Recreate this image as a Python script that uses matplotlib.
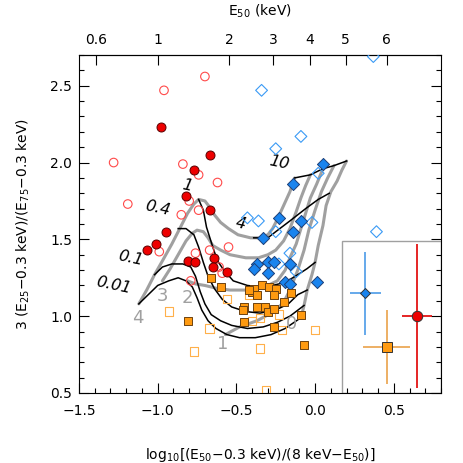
import numpy as np
import matplotlib.pyplot as plt
from matplotlib.patches import Rectangle
from matplotlib.ticker import MultipleLocator, NullLocator

plt.rcParams['font.family'] = ['DejaVu Sans']
plt.rcParams['xtick.direction'] = 'in'
plt.rcParams['ytick.direction'] = 'in'
plt.rcParams['font.size'] = 10

# model grid: gray = constant photon index, black = constant N_H
g4_x = [-1.12, -1.07, -1.02, -0.97, -0.91, -0.86, -0.81, -0.77, -0.74, -0.70, -0.67, -0.64,
        -0.60, -0.55, -0.49, -0.41, -0.35, -0.30, -0.27, -0.24, -0.20, -0.16, -0.13]
g4_y = [1.08, 1.17, 1.27, 1.36, 1.47, 1.57, 1.67, 1.73, 1.76, 1.75, 1.71, 1.66,
        1.61, 1.57, 1.53, 1.51, 1.51, 1.53, 1.57, 1.63, 1.72, 1.81, 1.90]
g3_x = [-0.97, -0.92, -0.87, -0.82, -0.78, -0.75, -0.71, -0.68, -0.65, -0.60, -0.54,
        -0.44, -0.36, -0.30, -0.25, -0.20, -0.16, -0.12, -0.09, -0.06, -0.03]
g3_y = [1.23, 1.31, 1.40, 1.49, 1.54, 1.56, 1.55, 1.51, 1.46, 1.43, 1.40,
        1.38, 1.38, 1.40, 1.43, 1.49, 1.57, 1.68, 1.77, 1.85, 1.92]
g2_x = [-0.81, -0.76, -0.70, -0.62, -0.54, -0.44, -0.36, -0.30, -0.24, -0.19, -0.16,
        -0.12, -0.09, -0.06, -0.03, 0.01, 0.05]
g2_y = [1.23, 1.21, 1.20, 1.18, 1.17, 1.17, 1.18, 1.20, 1.23, 1.30, 1.38,
        1.47, 1.57, 1.67, 1.77, 1.86, 1.96]
g1_x = [-0.57, -0.48, -0.37, -0.26, -0.20, -0.16, -0.11, -0.07, -0.04, 0.00, 0.04, 0.08, 0.12]
g1_y = [0.88, 0.93, 0.97, 1.03, 1.09, 1.17, 1.30, 1.43, 1.56, 1.69, 1.81, 1.90, 1.98]
g0_x = [-0.09, -0.07, -0.05, -0.02, 0.00, 0.02, 0.05, 0.07, 0.10, 0.14, 0.17, 0.20]
g0_y = [0.99, 1.07, 1.17, 1.27, 1.35, 1.46, 1.59, 1.72, 1.81, 1.88, 1.95, 2.01]

b001_x = [-1.12, -1.06, -1.00, -0.93, -0.87, -0.82, -0.78, -0.75, -0.72, -0.68, -0.63,
          -0.56, -0.48, -0.38, -0.28, -0.19, -0.09]
b001_y = [1.08, 1.14, 1.20, 1.23, 1.25, 1.23, 1.19, 1.12, 1.04, 0.97, 0.92,
          0.88, 0.86, 0.86, 0.88, 0.92, 0.99]
b01_x = [-1.02, -0.97, -0.91, -0.84, -0.79, -0.76, -0.73, -0.70, -0.66, -0.60, -0.53,
         -0.43, -0.33, -0.24, -0.16, -0.07]
b01_y = [1.27, 1.32, 1.34, 1.34, 1.32, 1.26, 1.16, 1.08, 1.01, 0.97, 0.94,
         0.92, 0.93, 0.96, 1.00, 1.07]
b04_x = [-0.87, -0.82, -0.77, -0.74, -0.71, -0.68, -0.64, -0.59, -0.53, -0.44, -0.35,
         -0.25, -0.17, -0.11, -0.05]
b04_y = [1.57, 1.57, 1.53, 1.45, 1.35, 1.26, 1.18, 1.11, 1.06, 1.03, 1.02,
         1.04, 1.08, 1.14, 1.17]
b1_x = [-0.74, -0.71, -0.69, -0.65, -0.62, -0.58, -0.52, -0.43, -0.35, -0.27, -0.19, -0.11, -0.05, 0.00]
b1_y = [1.76, 1.69, 1.58, 1.45, 1.36, 1.30, 1.23, 1.20, 1.19, 1.20, 1.22, 1.27, 1.31, 1.35]
b4_x = [-0.39, -0.30, -0.25, -0.16, -0.06, 0.02, 0.09]
b4_y = [1.51, 1.51, 1.55, 1.62, 1.70, 1.76, 1.80]
b10_x = [-0.13, -0.03, 0.05, 0.12, 0.20]
b10_y = [1.90, 1.92, 1.96, 1.98, 2.01]

gamma_labels = ['4', '3', '2', '1', '0']
gamma_lx = [-1.125, -0.97, -0.81, -0.59, -0.15]
gamma_ly = [0.99, 1.13, 1.12, 0.82, 0.95]
nh_labels = ['0.01', '0.1', '0.4', '1', '4', '10']
nh_lx = [-1.28, -1.17, -1.00, -0.81, -0.475, -0.23]
nh_ly = [1.20, 1.38, 1.70, 1.85, 1.60, 2.00]

# sources
red_fill_x = [-0.98, -0.67, -0.77, -0.82, -0.67, -0.95, -1.01, -1.07, -0.81, -0.76, -0.64, -0.65, -0.56]
red_fill_y = [2.23, 2.05, 1.95, 1.78, 1.69, 1.55, 1.47, 1.43, 1.36, 1.35, 1.38, 1.32, 1.29]
red_open_x = [-0.70, -0.96, -1.28, -0.84, -0.74, -0.62, -1.19, -0.80, -0.74, -0.85, -0.55,
              -0.99, -0.76, -0.67, -0.79, -0.61, -0.59]
red_open_y = [2.56, 2.47, 2.00, 1.99, 1.92, 1.87, 1.73, 1.75, 1.69, 1.66, 1.45,
              1.42, 1.41, 1.43, 1.23, 1.32, 1.28]
blue_fill_x = [0.05, -0.14, -0.23, -0.09, -0.14, -0.33, -0.37, -0.39, -0.30, -0.26, -0.30,
               -0.16, -0.19, -0.16, 0.01]
blue_fill_y = [1.99, 1.86, 1.64, 1.62, 1.55, 1.51, 1.34, 1.31, 1.35, 1.35, 1.28,
               1.34, 1.22, 1.21, 1.22]
blue_open_x = [-0.34, -0.09, -0.25, 0.02, -0.43, -0.36, -0.25, -0.02, 0.39, -0.16, -0.23, -0.12, 0.37]
blue_open_y = [2.47, 2.17, 2.09, 1.93, 1.64, 1.62, 1.55, 1.61, 1.55, 1.41, 1.34, 1.29, 2.69]
orange_fill_x = [-0.66, -0.60, -0.81, -0.40, -0.39, -0.37, -0.34, -0.29, -0.25, -0.26, -0.15, -0.20,
                 -0.45, -0.46, -0.37, -0.32, -0.30, -0.26, -0.45, -0.26, -0.09, -0.07, -0.42]
orange_fill_y = [1.25, 1.19, 0.97, 1.16, 1.18, 1.14, 1.20, 1.19, 1.18, 1.14, 1.15, 1.09,
                 1.06, 1.04, 1.06, 1.06, 1.03, 1.05, 0.96, 0.93, 1.01, 0.81, 1.17]
orange_open_x = [-0.93, -0.67, -0.77, -0.56, -0.42, -0.40, -0.35, -0.23, -0.21, 0.00, -0.35, -0.31]
orange_open_y = [1.03, 0.92, 0.77, 1.11, 1.14, 0.97, 0.99, 1.01, 0.91, 0.91, 0.79, 0.52]

# typical error bars (inset)
err_x = [0.32, 0.455, 0.647]
err_y = [1.15, 0.80, 1.00]
err_dx = [0.10, 0.15, 0.096]
err_dy = [0.27, 0.24, 0.468]

GRAY = '#a0a0a0'
fig = plt.figure(figsize=(4.63, 4.63), dpi=100)
ax = fig.add_axes([79 / 463, 1 - 393 / 463, 362 / 463, 338 / 463])

for gx, gy in [(g4_x, g4_y), (g3_x, g3_y), (g2_x, g2_y), (g1_x, g1_y), (g0_x, g0_y)]:
    ax.plot(gx, gy, color=GRAY, lw=2.2, solid_capstyle='round', zorder=2)
for bx, by in [(b001_x, b001_y), (b01_x, b01_y), (b04_x, b04_y), (b1_x, b1_y), (b4_x, b4_y), (b10_x, b10_y)]:
    ax.plot(bx, by, color='black', lw=1.1, zorder=2.1)

for t, lx, ly in zip(gamma_labels, gamma_lx, gamma_ly):
    ax.text(lx, ly, t, color=GRAY, fontsize=13, ha='center', va='center')
for t, lx, ly in zip(nh_labels, nh_lx, nh_ly):
    ax.text(lx, ly, t, color='black', fontsize=11.5, style='italic', rotation=-12,
            ha='center', va='center')

ax.scatter(red_open_x, red_open_y, s=38, marker='o', facecolors='none', edgecolors='#ff4a4a', linewidths=0.8, zorder=3)
ax.scatter(blue_open_x, blue_open_y, s=36, marker='D', facecolors='none', edgecolors='#3a9af5', linewidths=0.8, zorder=3)
ax.scatter(orange_open_x, orange_open_y, s=36, marker='s', facecolors='none', edgecolors='#ffb04a', linewidths=0.8, zorder=3)
ax.scatter(red_fill_x, red_fill_y, s=42, marker='o', color='#ee0000', edgecolors='#5a0000', linewidths=0.7, zorder=4)
ax.scatter(blue_fill_x, blue_fill_y, s=38, marker='D', color='#1a84ee', edgecolors='#1c3f78', linewidths=0.7, zorder=4)
ax.scatter(orange_fill_x, orange_fill_y, s=38, marker='s', color='#ff9a10', edgecolors='#6e4210', linewidths=0.7, zorder=4)

# inset with typical errors
ax.add_patch(Rectangle((0.17, 0.5), 0.63, 0.99, fill=False, edgecolor=GRAY, lw=1, zorder=1))
err_colors = ['#4c9be8', '#eaa24a', '#e00000']
err_markers = ['D', 's', 'o']
err_face = ['#1a84ee', '#ff9a10', '#ee0000']
err_ms = [5, 7.5, 7.5]
for i in range(3):
    ax.errorbar(err_x[i], err_y[i], xerr=err_dx[i], yerr=err_dy[i], fmt=err_markers[i],
                color=err_colors[i], mfc=err_face[i], mec='#333333', mew=0.7,
                ms=err_ms[i], elinewidth=1.2, capsize=0, zorder=3)

ax.set_xlim(-1.5, 0.8)
ax.set_ylim(0.5, 2.7)
ax.xaxis.set_major_locator(MultipleLocator(0.5))
ax.xaxis.set_minor_locator(MultipleLocator(0.1))
ax.yaxis.set_major_locator(MultipleLocator(0.5))
ax.yaxis.set_minor_locator(MultipleLocator(0.1))
ax.xaxis.set_major_formatter(plt.FuncFormatter(lambda v, p: f'{v:.1f}'.replace('-', '\u2212')))
ax.yaxis.set_major_formatter(plt.FuncFormatter(lambda v, p: f'{v:.1f}'))
ax.tick_params(which='both', top=False, right=True, width=0.8)
ax.tick_params(which='major', length=7)
ax.tick_params(which='minor', length=3.5)
ax.tick_params(axis='x', pad=8)
ax.tick_params(axis='y', pad=5)
for s in ax.spines.values():
    s.set_linewidth(0.8)


def x_to_e(x):
    t = 10.0 ** np.asarray(x, dtype=float)
    return (0.3 + 8.0 * t) / (1.0 + t)


def e_to_x(e):
    e = np.asarray(e, dtype=float)
    with np.errstate(all='ignore'):
        return np.log10((e - 0.3) / (8.0 - e))


secax = ax.secondary_xaxis('top', functions=(x_to_e, e_to_x))
secax.set_xticks([0.6, 1, 2, 3, 4, 5, 6])
secax.set_xticklabels(['0.6', '1', '2', '3', '4', '5', '6'])
secax.xaxis.set_minor_locator(NullLocator())
secax.tick_params(direction='in', length=7, width=0.8, pad=6)
secax.set_xlabel('E$_{50}$ (keV)', labelpad=12)

ax.set_xlabel('log$_{10}$[(E$_{50}$\u22120.3 keV)/(8 keV\u2212E$_{50}$)]', labelpad=20)
ax.set_ylabel('3 (E$_{25}$\u22120.3 keV)/(E$_{75}$\u22120.3 keV)', labelpad=13)

fig.savefig('out.png', dpi=100)
